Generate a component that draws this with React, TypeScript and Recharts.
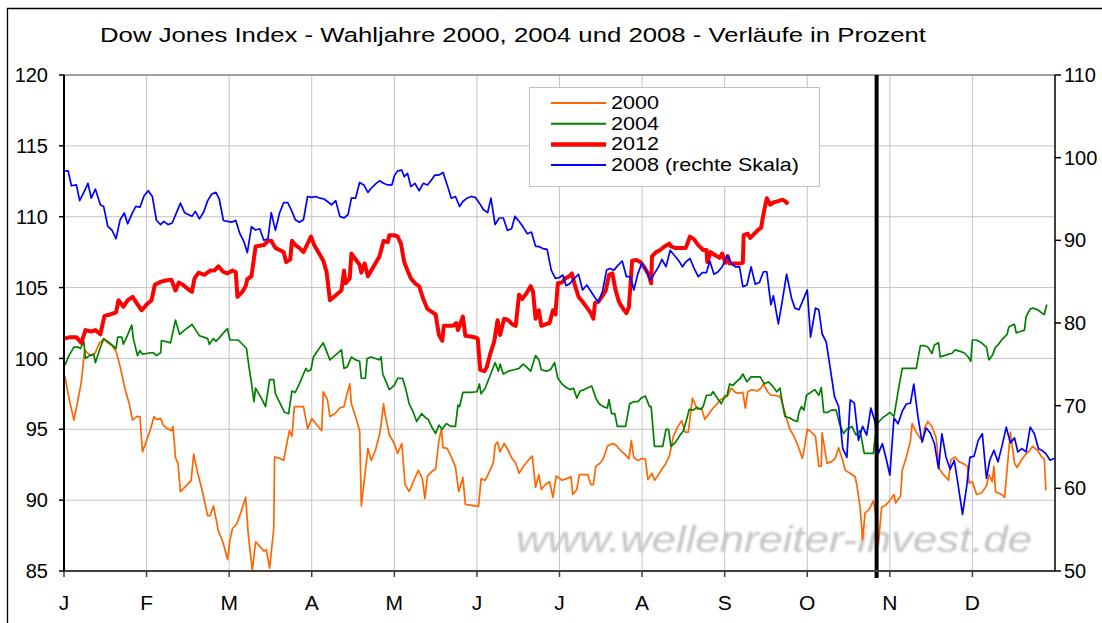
import React from 'react';
import { LineChart, Line, XAxis, YAxis, CartesianGrid, ReferenceLine, Legend } from 'recharts';

const monthLabels = ['J', 'F', 'M', 'A', 'M', 'J', 'J', 'A', 'S', 'O', 'N', 'D'];
const monthTicks = monthLabels.map((_, i) => i);
const leftTicks = [85, 90, 95, 100, 105, 110, 115, 120];
const rightTicks = [50, 60, 70, 80, 90, 100, 110];
const electionMonth = 9.84;

// [month of year (fractional), index value in percent]
const dow2000: [number, number][] = [
  [0.01, 98.75], [0.06, 97.2], [0.12, 95.65], [0.16, 96.8], [0.21, 98.35], [0.25, 100.6], [0.29, 100.35], [0.33, 100.2],
  [0.38, 100.4], [0.43, 101.1], [0.48, 101.35], [0.53, 101.1], [0.58, 100.9], [0.63, 100.5], [0.67, 99.65], [0.7, 98.9],
  [0.74, 97.8], [0.79, 96.8], [0.83, 95.65], [0.88, 95.9], [0.92, 95.9], [0.95, 93.4], [1.0, 94.2], [1.05, 95.05],
  [1.09, 95.9], [1.12, 95.7], [1.17, 95.75], [1.2, 95.3], [1.25, 95.05], [1.3, 94.9], [1.32, 95.2], [1.35, 93.0],
  [1.38, 92.6], [1.41, 90.6], [1.46, 90.9], [1.54, 91.4], [1.57, 93.25], [1.62, 91.9], [1.67, 90.75], [1.74, 88.9],
  [1.77, 88.9], [1.81, 89.6], [1.87, 87.8], [1.92, 87.1], [1.95, 86.5], [1.98, 85.8], [2.01, 87.2], [2.04, 88.0],
  [2.09, 88.3], [2.14, 89.1], [2.2, 90.2], [2.23, 87.65], [2.28, 85.05], [2.32, 87.05], [2.37, 86.75], [2.42, 86.4],
  [2.45, 86.5], [2.49, 85.2], [2.54, 88.0], [2.55, 93.05], [2.61, 92.95], [2.66, 92.8], [2.7, 94.05], [2.73, 94.9],
  [2.76, 94.5], [2.79, 96.6], [2.84, 96.6], [2.9, 96.6], [2.95, 95.05], [3.0, 95.75], [3.05, 95.4], [3.12, 94.9],
  [3.14, 97.65], [3.19, 97.1], [3.22, 95.9], [3.28, 96.1], [3.34, 96.5], [3.39, 96.6], [3.43, 97.55], [3.46, 98.2],
  [3.48, 96.8], [3.53, 95.9], [3.58, 94.9], [3.6, 89.6], [3.65, 92.1], [3.68, 93.65], [3.72, 92.8], [3.77, 93.5],
  [3.82, 94.6], [3.84, 95.35], [3.87, 96.8], [3.89, 96.0], [3.94, 94.6], [4.0, 94.0], [4.04, 93.3], [4.09, 94.0],
  [4.13, 91.1], [4.18, 90.6], [4.23, 91.3], [4.29, 92.1], [4.34, 91.5], [4.37, 90.1], [4.4, 91.7], [4.45, 92.0],
  [4.5, 92.2], [4.54, 94.2], [4.57, 95.05], [4.59, 93.7], [4.64, 93.65], [4.69, 93.05], [4.74, 92.35], [4.78, 90.6],
  [4.83, 91.6], [4.86, 89.7], [4.92, 89.65], [4.97, 89.6], [5.02, 89.55], [5.05, 91.5], [5.1, 91.4], [5.15, 92.0],
  [5.2, 92.65], [5.22, 93.9], [5.25, 94.1], [5.28, 93.4], [5.33, 94.0], [5.38, 93.5], [5.42, 93.0], [5.47, 92.6],
  [5.51, 91.9], [5.56, 92.35], [5.62, 92.8], [5.67, 93.1], [5.71, 90.9], [5.75, 91.8], [5.78, 90.75], [5.83, 91.1],
  [5.88, 91.3], [5.92, 90.2], [5.96, 91.7], [6.03, 91.4], [6.08, 91.5], [6.14, 91.65], [6.16, 90.4], [6.21, 90.75],
  [6.24, 91.8], [6.3, 91.8], [6.34, 91.8], [6.38, 91.1], [6.41, 91.1], [6.44, 92.4], [6.49, 92.6], [6.53, 92.9],
  [6.58, 93.8], [6.64, 94.0], [6.68, 93.9], [6.74, 93.5], [6.79, 93.25], [6.84, 92.9], [6.87, 94.2], [6.9, 93.0],
  [6.95, 92.8], [7.0, 92.95], [7.04, 92.9], [7.07, 91.45], [7.12, 91.9], [7.15, 91.4], [7.2, 91.8], [7.24, 92.2],
  [7.28, 92.5], [7.33, 93.1], [7.38, 94.5], [7.43, 95.15], [7.48, 95.6], [7.52, 94.8], [7.56, 94.8], [7.61, 97.2],
  [7.67, 96.4], [7.72, 96.5], [7.76, 95.7], [7.81, 96.1], [7.86, 96.5], [7.91, 96.8], [7.95, 97.1], [8.03, 97.3],
  [8.08, 97.9], [8.13, 97.6], [8.17, 97.55], [8.22, 97.6], [8.25, 96.5], [8.28, 97.65], [8.33, 97.8], [8.39, 97.7],
  [8.44, 97.9], [8.47, 98.2], [8.52, 97.65], [8.56, 97.4], [8.61, 97.4], [8.67, 97.3], [8.7, 96.8], [8.75, 95.75],
  [8.79, 95.0], [8.84, 94.5], [8.89, 93.8], [8.94, 92.95], [8.96, 93.5], [9.0, 95.0], [9.05, 94.8], [9.1, 94.5],
  [9.14, 92.4], [9.17, 92.4], [9.18, 94.75], [9.24, 92.6], [9.29, 92.7], [9.34, 92.95], [9.38, 93.7], [9.43, 92.8],
  [9.46, 92.1], [9.52, 91.9], [9.58, 91.65], [9.6, 91.1], [9.64, 89.5], [9.67, 87.2], [9.7, 89.1], [9.75, 89.35],
  [9.8, 89.95], [9.84, 88.7], [9.86, 86.8], [9.9, 89.5], [9.94, 89.6], [9.99, 89.9], [10.05, 90.4], [10.07, 89.8],
  [10.13, 90.3], [10.15, 92.1], [10.2, 93.05], [10.25, 94.2], [10.27, 95.4], [10.32, 94.8], [10.37, 94.35], [10.4, 94.2],
  [10.42, 95.1], [10.46, 95.55], [10.51, 95.2], [10.56, 94.4], [10.6, 92.2], [10.65, 91.8], [10.71, 91.4], [10.74, 92.85],
  [10.79, 93.05], [10.84, 92.7], [10.88, 92.6], [10.94, 92.4], [10.96, 91.2], [11.0, 91.3], [11.05, 90.4], [11.11, 90.5],
  [11.17, 91.0], [11.2, 91.8], [11.24, 91.3], [11.26, 92.4], [11.28, 90.6], [11.35, 90.4], [11.39, 90.2], [11.46, 94.8],
  [11.51, 92.6], [11.54, 92.3], [11.59, 92.8], [11.64, 93.2], [11.69, 93.5], [11.73, 93.8], [11.79, 93.5], [11.84, 93.05],
  [11.87, 92.9], [11.89, 90.7],
];

const dow2004: [number, number][] = [
  [0.01, 99.5], [0.06, 100.2], [0.12, 100.8], [0.17, 100.8], [0.2, 100.7], [0.24, 101.2], [0.26, 100.0], [0.31, 100.2],
  [0.36, 100.3], [0.38, 99.7], [0.43, 100.6], [0.48, 101.4], [0.53, 101.2], [0.58, 100.95], [0.63, 100.7], [0.65, 101.5],
  [0.7, 101.5], [0.72, 101.0], [0.77, 101.65], [0.82, 102.35], [0.84, 101.4], [0.89, 100.2], [0.92, 100.55], [0.95, 100.3],
  [1.0, 100.35], [1.05, 100.4], [1.08, 100.4], [1.12, 100.2], [1.17, 100.4], [1.18, 101.25], [1.23, 101.2], [1.29, 101.1],
  [1.35, 102.7], [1.4, 101.7], [1.46, 102.0], [1.55, 102.4], [1.59, 102.05], [1.64, 101.6], [1.69, 101.5], [1.74, 101.4],
  [1.76, 101.0], [1.81, 101.4], [1.84, 101.2], [1.88, 101.45], [1.93, 101.8], [1.98, 102.1], [2.01, 101.3], [2.11, 101.3],
  [2.16, 101.0], [2.21, 100.7], [2.24, 99.4], [2.27, 98.3], [2.3, 96.95], [2.32, 97.9], [2.39, 97.2], [2.44, 96.6],
  [2.49, 98.5], [2.54, 98.5], [2.56, 97.5], [2.62, 96.8], [2.67, 96.2], [2.72, 96.1], [2.76, 97.7], [2.8, 97.6],
  [2.85, 98.2], [2.9, 98.9], [2.93, 99.3], [2.95, 99.1], [2.99, 99.2], [3.02, 100.1], [3.09, 100.7], [3.14, 101.1],
  [3.22, 99.9], [3.28, 100.2], [3.36, 100.6], [3.39, 99.3], [3.43, 99.4], [3.48, 100.1], [3.53, 99.9], [3.58, 99.8],
  [3.6, 98.6], [3.65, 98.6], [3.67, 100.0], [3.72, 100.1], [3.77, 100.0], [3.82, 99.9], [3.84, 100.1], [3.86, 98.9],
  [3.94, 97.8], [4.0, 98.1], [4.04, 98.6], [4.1, 98.6], [4.14, 97.8], [4.18, 96.8], [4.23, 96.2], [4.27, 95.55],
  [4.33, 96.1], [4.38, 95.8], [4.41, 95.7], [4.45, 95.2], [4.5, 94.7], [4.54, 95.3], [4.58, 95.0], [4.63, 95.4],
  [4.69, 95.2], [4.74, 95.2], [4.77, 96.7], [4.79, 96.6], [4.83, 97.6], [4.87, 97.6], [4.93, 97.6], [5.0, 97.65],
  [5.03, 98.2], [5.05, 97.5], [5.1, 97.9], [5.16, 98.8], [5.22, 99.7], [5.26, 99.1], [5.28, 99.6], [5.32, 98.9],
  [5.38, 99.1], [5.45, 99.2], [5.51, 99.3], [5.56, 99.6], [5.6, 99.4], [5.65, 99.1], [5.71, 100.2], [5.75, 99.9],
  [5.78, 99.2], [5.84, 99.1], [5.89, 99.2], [5.94, 99.7], [5.98, 98.6], [6.03, 98.2], [6.08, 97.95], [6.13, 97.8],
  [6.17, 97.9], [6.21, 97.2], [6.25, 97.7], [6.3, 97.8], [6.35, 97.95], [6.39, 98.05], [6.44, 97.2], [6.48, 96.8],
  [6.53, 96.6], [6.58, 96.5], [6.6, 97.1], [6.63, 96.1], [6.67, 96.1], [6.7, 95.2], [6.75, 95.2], [6.8, 95.2],
  [6.85, 96.8], [6.9, 96.95], [6.95, 96.95], [6.99, 97.2], [7.04, 97.35], [7.09, 96.6], [7.11, 96.6], [7.15, 93.8],
  [7.2, 93.8], [7.25, 93.8], [7.29, 95.0], [7.32, 95.0], [7.35, 93.8], [7.4, 94.05], [7.45, 94.5], [7.5, 94.9],
  [7.54, 95.7], [7.57, 96.4], [7.62, 96.35], [7.66, 96.55], [7.71, 96.4], [7.74, 96.6], [7.78, 97.4], [7.83, 97.4],
  [7.86, 97.65], [7.91, 97.2], [7.96, 96.8], [8.0, 97.35], [8.03, 97.4], [8.06, 98.2], [8.1, 98.1], [8.14, 98.35],
  [8.19, 98.6], [8.22, 98.9], [8.27, 98.35], [8.32, 98.7], [8.38, 98.7], [8.43, 98.7], [8.48, 98.2], [8.53, 98.35],
  [8.58, 98.05], [8.63, 97.65], [8.67, 97.9], [8.7, 96.8], [8.73, 95.9], [8.79, 95.8], [8.83, 95.65], [8.88, 95.55],
  [8.9, 96.2], [8.93, 96.6], [8.96, 96.35], [8.99, 97.4], [9.04, 97.6], [9.09, 97.8], [9.14, 97.4], [9.17, 97.95],
  [9.2, 96.2], [9.25, 96.2], [9.29, 96.35], [9.35, 96.35], [9.39, 95.4], [9.44, 94.7], [9.48, 95.0], [9.54, 95.2],
  [9.59, 94.6], [9.64, 94.9], [9.69, 93.3], [9.74, 93.3], [9.8, 93.3], [9.84, 95.3], [9.87, 95.55], [9.92, 95.85],
  [9.96, 96.0], [10.0, 96.2], [10.05, 95.9], [10.1, 97.65], [10.15, 99.3], [10.2, 99.3], [10.25, 99.3], [10.32, 99.3],
  [10.37, 100.9], [10.42, 100.9], [10.46, 100.8], [10.51, 100.35], [10.54, 100.95], [10.59, 101.1], [10.61, 100.1], [10.66, 100.2],
  [10.71, 100.3], [10.75, 100.35], [10.79, 100.6], [10.85, 100.5], [10.9, 100.4], [10.95, 100.1], [10.98, 99.8], [11.0, 101.3],
  [11.05, 101.3], [11.11, 101.1], [11.17, 100.8], [11.2, 99.9], [11.24, 100.2], [11.28, 100.8], [11.31, 100.95], [11.36, 101.35],
  [11.42, 101.7], [11.44, 102.2], [11.48, 102.35], [11.51, 102.4], [11.53, 101.8], [11.58, 101.9], [11.63, 102.0], [11.65, 102.95],
  [11.7, 103.5], [11.74, 103.55], [11.8, 103.4], [11.84, 103.2], [11.87, 103.1], [11.9, 103.8],
];

const dow2012: [number, number][] = [
  [0.01, 101.4], [0.07, 101.5], [0.15, 101.5], [0.21, 101.1], [0.26, 102.0], [0.33, 101.9], [0.38, 102.0], [0.44, 101.7],
  [0.49, 103.0], [0.56, 103.1], [0.63, 103.25], [0.66, 104.1], [0.72, 103.65], [0.77, 104.1], [0.83, 104.35], [0.88, 103.9],
  [0.94, 103.4], [1.0, 103.8], [1.06, 104.1], [1.1, 105.2], [1.17, 105.4], [1.23, 105.5], [1.3, 105.55], [1.35, 104.8],
  [1.39, 105.35], [1.44, 105.2], [1.5, 104.9], [1.55, 104.7], [1.58, 105.65], [1.63, 106.05], [1.7, 105.9], [1.77, 106.2],
  [1.82, 106.2], [1.87, 106.5], [1.93, 106.1], [1.98, 106.0], [2.04, 106.2], [2.08, 106.1], [2.1, 104.35], [2.16, 104.7],
  [2.2, 105.1], [2.22, 105.6], [2.27, 105.8], [2.32, 107.9], [2.37, 107.95], [2.42, 108.0], [2.47, 108.3], [2.51, 108.3],
  [2.56, 107.8], [2.61, 107.65], [2.66, 107.5], [2.69, 106.8], [2.74, 107.0], [2.76, 108.3], [2.8, 108.0], [2.85, 107.8],
  [2.9, 107.5], [2.95, 108.1], [2.99, 108.6], [3.03, 108.0], [3.08, 107.5], [3.14, 106.9], [3.18, 106.1], [3.22, 104.1],
  [3.27, 104.35], [3.32, 104.6], [3.36, 104.8], [3.39, 106.2], [3.41, 105.3], [3.46, 105.65], [3.48, 107.4], [3.53, 107.0],
  [3.58, 106.6], [3.6, 106.05], [3.64, 106.7], [3.68, 105.8], [3.72, 106.2], [3.77, 106.7], [3.82, 107.2], [3.87, 108.3],
  [3.92, 108.2], [3.94, 108.7], [4.0, 108.7], [4.04, 108.6], [4.08, 108.1], [4.12, 106.8], [4.16, 106.2], [4.2, 105.65],
  [4.25, 105.3], [4.3, 105.1], [4.35, 104.2], [4.4, 103.5], [4.45, 103.3], [4.5, 103.1], [4.54, 101.65], [4.58, 101.25],
  [4.6, 102.3], [4.66, 102.3], [4.71, 102.3], [4.75, 102.5], [4.77, 102.0], [4.83, 102.95], [4.86, 101.6], [4.92, 101.55],
  [4.97, 101.5], [5.01, 101.4], [5.04, 99.2], [5.09, 99.1], [5.12, 99.4], [5.16, 100.3], [5.21, 101.2], [5.25, 102.7],
  [5.28, 101.65], [5.33, 102.8], [5.38, 102.7], [5.43, 102.4], [5.47, 102.3], [5.51, 104.5], [5.55, 104.2], [5.6, 104.6],
  [5.65, 105.1], [5.68, 104.7], [5.71, 102.8], [5.75, 103.4], [5.78, 102.3], [5.83, 102.4], [5.88, 102.5], [5.92, 103.4],
  [5.95, 103.1], [5.98, 105.3], [6.03, 105.35], [6.07, 105.65], [6.12, 105.8], [6.15, 106.0], [6.18, 105.3], [6.23, 104.35],
  [6.28, 104.0], [6.33, 103.6], [6.38, 103.2], [6.41, 102.8], [6.43, 103.9], [6.47, 104.0], [6.52, 104.4], [6.56, 104.8],
  [6.6, 105.9], [6.64, 106.0], [6.68, 104.8], [6.72, 104.0], [6.77, 103.5], [6.81, 103.2], [6.84, 103.6], [6.88, 106.9],
  [6.93, 106.95], [6.98, 106.8], [7.03, 106.4], [7.08, 105.9], [7.11, 105.3], [7.12, 107.2], [7.17, 107.5], [7.22, 107.65],
  [7.27, 107.9], [7.33, 108.1], [7.35, 107.9], [7.4, 107.8], [7.45, 107.8], [7.53, 107.8], [7.58, 108.6], [7.63, 108.4],
  [7.68, 108.0], [7.74, 107.65], [7.78, 107.65], [7.79, 106.8], [7.83, 107.5], [7.88, 107.3], [7.94, 107.1], [7.97, 107.4],
  [8.01, 106.75], [8.04, 107.2], [8.06, 106.7], [8.1, 106.7], [8.17, 106.7], [8.22, 106.75], [8.23, 108.7], [8.28, 108.8],
  [8.31, 108.5], [8.36, 108.8], [8.41, 109.1], [8.44, 109.2], [8.47, 110.2], [8.51, 111.3], [8.55, 110.85], [8.59, 111.0],
  [8.65, 111.1], [8.7, 111.2], [8.73, 111.1], [8.77, 110.9],
];

// right-hand scale
const dow2008: [number, number][] = [
  [0.01, 98.4], [0.05, 98.4], [0.09, 96.6], [0.15, 96.7], [0.19, 94.8], [0.25, 96.0], [0.29, 96.9], [0.33, 95.1],
  [0.38, 96.2], [0.44, 94.3], [0.48, 94.1], [0.53, 91.7], [0.58, 91.25], [0.63, 90.2], [0.68, 92.5], [0.73, 93.3],
  [0.77, 92.0], [0.83, 93.35], [0.87, 94.1], [0.92, 94.0], [0.97, 95.4], [1.02, 96.0], [1.07, 95.3], [1.12, 92.4],
  [1.17, 91.9], [1.21, 92.3], [1.26, 91.9], [1.31, 92.1], [1.36, 93.3], [1.41, 94.5], [1.46, 93.35], [1.51, 93.1],
  [1.55, 92.9], [1.59, 93.5], [1.64, 92.6], [1.69, 93.4], [1.74, 94.8], [1.79, 95.6], [1.84, 95.8], [1.88, 95.0],
  [1.93, 92.4], [1.98, 92.3], [2.03, 92.2], [2.08, 92.4], [2.13, 90.8], [2.18, 89.8], [2.22, 88.5], [2.27, 91.65],
  [2.32, 91.25], [2.37, 91.4], [2.42, 90.0], [2.47, 90.2], [2.51, 93.35], [2.56, 91.2], [2.61, 93.3], [2.66, 94.55],
  [2.71, 94.55], [2.76, 93.5], [2.8, 92.5], [2.85, 92.2], [2.9, 92.5], [2.95, 95.3], [3.0, 95.2], [3.05, 95.3],
  [3.1, 95.1], [3.15, 95.0], [3.19, 94.7], [3.24, 94.3], [3.29, 94.8], [3.34, 92.9], [3.39, 92.7], [3.44, 93.1],
  [3.48, 95.1], [3.53, 95.1], [3.58, 97.0], [3.63, 96.7], [3.68, 95.8], [3.72, 96.3], [3.77, 96.8], [3.82, 97.2],
  [3.87, 96.9], [3.92, 96.7], [3.97, 96.7], [4.0, 97.8], [4.04, 98.4], [4.09, 98.5], [4.12, 97.7], [4.16, 98.1],
  [4.2, 96.5], [4.25, 96.9], [4.3, 96.0], [4.35, 96.9], [4.4, 96.7], [4.45, 97.3], [4.49, 97.9], [4.54, 97.9],
  [4.59, 98.2], [4.64, 96.7], [4.69, 95.1], [4.74, 95.3], [4.79, 94.1], [4.83, 94.7], [4.88, 95.1], [4.93, 95.3],
  [4.98, 95.2], [5.03, 94.5], [5.08, 93.7], [5.13, 93.35], [5.17, 95.1], [5.22, 91.9], [5.27, 92.7], [5.32, 92.7],
  [5.37, 91.2], [5.42, 91.4], [5.46, 92.9], [5.51, 92.3], [5.56, 91.6], [5.61, 90.8], [5.66, 91.0], [5.71, 89.3],
  [5.76, 89.2], [5.8, 89.0], [5.85, 88.9], [5.9, 86.4], [5.95, 85.4], [6.0, 85.5], [6.04, 85.8], [6.08, 84.5],
  [6.13, 84.8], [6.18, 85.4], [6.23, 85.9], [6.28, 84.0], [6.33, 84.6], [6.37, 84.0], [6.42, 83.2], [6.47, 82.5],
  [6.52, 83.8], [6.57, 86.4], [6.61, 86.6], [6.66, 86.4], [6.71, 87.0], [6.76, 87.5], [6.81, 85.6], [6.86, 85.6],
  [6.9, 84.0], [6.95, 86.0], [7.0, 87.3], [7.05, 86.4], [7.1, 85.2], [7.15, 86.0], [7.2, 86.8], [7.24, 87.7],
  [7.29, 86.8], [7.34, 88.8], [7.39, 88.2], [7.44, 87.6], [7.49, 86.8], [7.53, 87.4], [7.58, 87.8], [7.63, 86.6],
  [7.68, 85.6], [7.73, 86.1], [7.78, 86.1], [7.82, 87.5], [7.87, 85.9], [7.92, 86.2], [7.97, 86.8], [8.03, 88.2],
  [8.08, 87.2], [8.13, 86.8], [8.18, 86.8], [8.22, 84.4], [8.27, 84.6], [8.32, 86.8], [8.37, 84.7], [8.42, 84.9],
  [8.47, 86.2], [8.51, 86.2], [8.56, 82.2], [8.59, 83.3], [8.65, 79.9], [8.7, 82.8], [8.75, 85.9], [8.81, 83.0],
  [8.85, 81.8], [8.9, 81.6], [8.95, 82.8], [9.0, 84.0], [9.04, 78.3], [9.1, 81.8], [9.14, 81.6], [9.18, 78.7],
  [9.23, 77.7], [9.27, 75.1], [9.33, 71.1], [9.38, 69.9], [9.43, 64.8], [9.48, 63.75], [9.52, 70.7], [9.57, 70.3],
  [9.62, 65.8], [9.67, 67.5], [9.72, 66.45], [9.77, 69.7], [9.82, 68.1], [9.86, 64.2], [9.91, 65.4], [9.96, 63.4],
  [10.0, 61.6], [10.05, 68.5], [10.1, 67.8], [10.15, 69.3], [10.2, 70.2], [10.25, 70.3], [10.29, 72.6], [10.34, 68.7],
  [10.39, 65.6], [10.44, 67.3], [10.49, 66.7], [10.54, 65.4], [10.59, 62.4], [10.63, 66.6], [10.68, 63.8], [10.73, 62.3],
  [10.78, 63.4], [10.83, 60.2], [10.88, 56.85], [10.93, 60.2], [10.97, 63.75], [11.02, 63.9], [11.07, 65.8], [11.12, 66.6],
  [11.17, 61.2], [11.21, 63.4], [11.26, 64.6], [11.31, 63.2], [11.36, 65.2], [11.41, 67.4], [11.46, 65.5], [11.51, 66.1],
  [11.55, 64.4], [11.6, 64.8], [11.65, 64.4], [11.7, 67.4], [11.75, 66.6], [11.8, 64.8], [11.84, 64.6], [11.89, 64.2],
  [11.94, 63.4], [11.99, 63.6],
];

const toRows = (pairs: [number, number][]) => pairs.map(([m, v]) => ({ m, v }));

const FONT = 'Arial, "Liberation Sans", Helvetica, sans-serif';

const series = [
  { key: 's2000', label: '2000', color: '#FF6600', width: 1.7, legendWidth: 2, axis: 0 as any, rows: toRows(dow2000), textLen: 48 },
  { key: 's2004', label: '2004', color: '#008000', width: 1.7, legendWidth: 2, axis: 0 as any, rows: toRows(dow2004), textLen: 48 },
  { key: 's2012', label: '2012', color: '#FF0000', width: 4, legendWidth: 4.5, axis: 0 as any, rows: toRows(dow2012), textLen: 48 },
  { key: 's2008', label: '2008 (rechte Skala)', color: '#0000FF', width: 1.7, legendWidth: 2, axis: 'right' as any, rows: toRows(dow2008), textLen: 188 },
];

function LegendBox() {
  return (
    <svg width={292} height={101} style={{ display: 'block' }}>
      <rect x={0.5} y={0.5} width={290} height={99} fill="#fff" stroke="#c0c0c0" />
      {series.map((s, i) => (
        <g key={s.key}>
          <line x1={22} x2={77} y1={16 + i * 20.7} y2={16 + i * 20.7} stroke={s.color} strokeWidth={s.legendWidth} />
          <text
            x={82}
            y={21.8 + i * 20.8}
            fontSize={18.5}
            fontFamily={FONT}
            fill="#000"
            textLength={s.textLen}
            lengthAdjust="spacingAndGlyphs"
          >
            {s.label}
          </text>
        </g>
      ))}
    </svg>
  );
}

export default function App() {
  return (
    <div style={{ position: 'absolute', left: 0, top: 0, width: 1102, height: 623, overflow: 'hidden', background: '#fff' }}>
      <svg width={1102} height={623} style={{ position: 'absolute', left: 0, top: 0 }}>
        <path d="M7.5 623 V8.5 H1102" fill="none" stroke="#000" strokeWidth={1.3} />
        <text x={100} y={42} fontSize={20.5} fontFamily={FONT} fill="#000" textLength={826} lengthAdjust="spacingAndGlyphs">
          Dow Jones Index - Wahljahre 2000, 2004 und 2008 - Verläufe in Prozent
        </text>
        <defs>
          <filter id="wmblur">
            <feGaussianBlur stdDeviation="0.9" />
          </filter>
        </defs>
        <text
          x={516}
          y={552}
          fontSize={37}
          fontStyle="italic"
          fontFamily={FONT}
          fill="#c4c4c4"
          filter="url(#wmblur)"
          textLength={516}
          lengthAdjust="spacingAndGlyphs"
        >
          www.wellenreiter-invest.de
        </text>
      </svg>
      <div style={{ position: 'absolute', left: 0, top: 0 }}>
        <LineChart width={1102} height={623} margin={{ top: 75, right: 0, bottom: 0, left: 0 }}>
          <CartesianGrid stroke="#c4c4c4" strokeWidth={1} horizontalValues={leftTicks} verticalValues={monthTicks} />
          <XAxis
            dataKey="m"
            type="number"
            domain={[0, 12]}
            ticks={monthTicks}
            interval={0}
            tickFormatter={(v: number) => monthLabels[v]}
            height={52}
            axisLine={{ stroke: '#404040', strokeWidth: 2 }}
            tickLine={{ stroke: '#404040', strokeWidth: 1.5 }}
            tickSize={6}
            tickMargin={18}
            tick={{ fontSize: 21, fill: '#000', fontFamily: FONT }}
            allowDuplicatedCategory={false}
          />
          <YAxis
            yAxisId={0}
            domain={[85, 120]}
            ticks={leftTicks}
            interval={0}
            width={64}
            axisLine={{ stroke: '#000', strokeWidth: 2 }}
            tickLine={{ stroke: '#000', strokeWidth: 1.5 }}
            tickSize={5}
            tickMargin={11}
            tick={{ fontSize: 20, fill: '#000', fontFamily: FONT }}
            allowDataOverflow
          />
          <YAxis
            yAxisId="right"
            orientation="right"
            domain={[50, 110]}
            ticks={rightTicks}
            interval={0}
            width={47}
            axisLine={{ stroke: '#000', strokeWidth: 1.5 }}
            tickLine={{ stroke: '#000', strokeWidth: 1.5 }}
            tickSize={6}
            tickMargin={3}
            tick={{ fontSize: 20, fill: '#000', fontFamily: FONT }}
            allowDataOverflow
          />
          <ReferenceLine yAxisId={0} y={120} stroke="#606060" strokeWidth={1.2} />
          <Legend
            layout="horizontal"
            verticalAlign="middle"
            align="center"
            wrapperStyle={{ left: 529, top: 87, width: 292, height: 101 }}
            content={() => <LegendBox />}
          />
          {series.map((s) => (
            <Line
              key={s.key}
              data={s.rows}
              dataKey="v"
              name={s.label}
              yAxisId={s.axis}
              type="linear"
              stroke={s.color}
              strokeWidth={s.width}
              strokeLinejoin="round"
              dot={false}
              activeDot={false}
              isAnimationActive={false}
            />
          ))}
          <ReferenceLine
            yAxisId={0}
            segment={[{ x: electionMonth, y: 120 }, { x: electionMonth, y: 84.5 }]}
            ifOverflow="visible"
            stroke="#000"
            strokeWidth={4}
          />
        </LineChart>
      </div>
    </div>
  );
}
